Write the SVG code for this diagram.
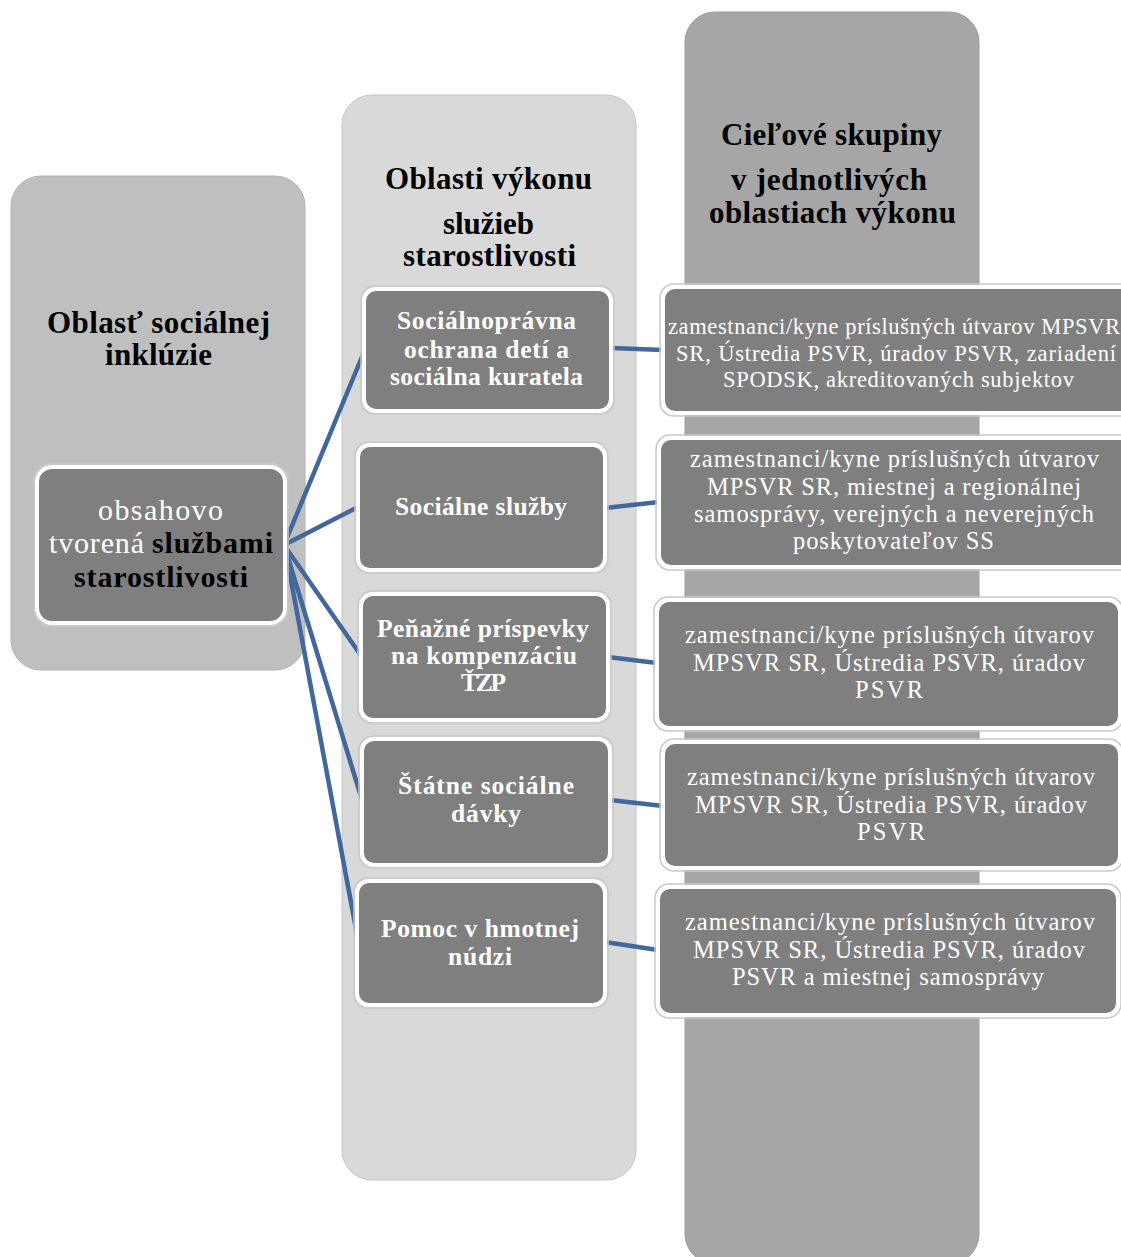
<svg xmlns="http://www.w3.org/2000/svg" width="1121" height="1257" viewBox="0 0 1121 1257">
<style>
.col1{fill:#bfbfbf;stroke:#b3b3b3;stroke-width:1}
.col2{fill:#d9d9d9;stroke:#c4c4c4;stroke-width:1}
.col3{fill:#a6a6a6;stroke:#9c9c9c;stroke-width:1}
.shadow{fill:none;stroke:#c9c9c9;stroke-width:1.5}
.node{fill:#7f7f7f;stroke:#ffffff;stroke-width:4}
.hdr{font-family:"Liberation Serif","Times New Roman",serif;font-weight:bold;font-size:31px;fill:#000}
.mid{font-family:"Liberation Serif","Times New Roman",serif;font-weight:bold;font-size:25.5px;fill:#fff}
.tgt{font-family:"Liberation Serif","Times New Roman",serif;font-size:24.5px;fill:#fff}
.lft{font-family:"Liberation Serif","Times New Roman",serif;font-size:30px}
.conn{stroke:#41679c;stroke-width:4.5;fill:none;stroke-linecap:butt}
</style>
<rect width="1121" height="1257" fill="#ffffff"/>

<g id="col-inkluzia">
<rect class="col1" x="11" y="176" width="294" height="494" rx="30"/>
<text class="hdr"><tspan x="47" y="333" textLength="223">Oblasť sociálnej</tspan><tspan x="105" y="365" textLength="107">inklúzie</tspan></text>
</g>
<g id="col-oblasti">
<rect class="col2" x="342" y="95" width="294" height="1085" rx="30"/>
<text class="hdr"><tspan x="385" y="189" textLength="207">Oblasti výkonu</tspan><tspan x="443" y="234" textLength="91">služieb</tspan><tspan x="403" y="266" textLength="173">starostlivosti</tspan></text>
</g>
<g id="col-ciel">
<rect class="col3" x="685" y="12" width="294" height="1252" rx="30"/>
<text class="hdr"><tspan x="721" y="145" textLength="221">Cieľové skupiny</tspan><tspan x="731" y="190" textLength="196">v jednotlivých</tspan><tspan x="709" y="223" textLength="247">oblastiach výkonu</tspan></text>
</g>

<g id="connectors">
<line class="conn" x1="284" y1="545" x2="364" y2="352"/>
<line class="conn" x1="284" y1="545" x2="358" y2="507"/>
<line class="conn" x1="284" y1="545" x2="362" y2="657"/>
<line class="conn" x1="285" y1="548" x2="362" y2="800"/>
<line class="conn" x1="285" y1="548" x2="358" y2="940"/>
<line class="conn" x1="611" y1="348" x2="663" y2="350"/>
<line class="conn" x1="605" y1="508" x2="659" y2="502"/>
<line class="conn" x1="608" y1="657" x2="657" y2="663"/>
<line class="conn" x1="610" y1="800" x2="663" y2="806"/>
<line class="conn" x1="605" y1="942" x2="658" y2="950"/>
</g>

<g id="node-obsahovo">
<rect class="shadow" x="34" y="464" width="254" height="162" rx="17"/>
<rect class="node" x="37" y="467" width="248" height="156" rx="15"/>
<text class="lft"><tspan x="98" y="520" textLength="125" fill="#fff">obsahovo</tspan><tspan x="49" y="553" textLength="95" fill="#fff">tvorená</tspan><tspan x="152" y="553" textLength="121" font-weight="bold" fill="#000">službami</tspan><tspan x="74" y="587" textLength="174" font-weight="bold" fill="#000">starostlivosti</tspan></text>
</g>

<g id="node-spodsk">
<rect class="shadow" x="361" y="286" width="253" height="128" rx="14"/>
<rect class="node" x="364" y="289" width="247" height="122" rx="12"/>
<text class="mid"><tspan x="397" y="329" textLength="179">Sociálnoprávna</tspan><tspan x="404" y="358" textLength="165">ochrana  detí a</tspan><tspan x="390" y="385" textLength="193">sociálna kuratela</tspan></text>
</g>
<g id="node-ss">
<rect class="shadow" x="355" y="442" width="253" height="131" rx="14"/>
<rect class="node" x="358" y="445" width="247" height="125" rx="12"/>
<text class="mid"><tspan x="395" y="515" textLength="172">Sociálne služby</tspan></text>
</g>
<g id="node-ppk">
<rect class="shadow" x="358" y="591" width="253" height="132" rx="14"/>
<rect class="node" x="361" y="594" width="247" height="126" rx="12"/>
<text class="mid"><tspan x="377" y="637" textLength="212">Peňažné príspevky</tspan><tspan x="391" y="664" textLength="186">na kompenzáciu</tspan><tspan x="461" y="691" textLength="45">ŤZP</tspan></text>
</g>
<g id="node-ssd">
<rect class="shadow" x="359" y="736" width="254" height="132" rx="14"/>
<rect class="node" x="362" y="739" width="248" height="126" rx="12"/>
<text class="mid"><tspan x="398" y="794" textLength="176">Štátne sociálne</tspan><tspan x="451" y="822" textLength="70">dávky</tspan></text>
</g>
<g id="node-phn">
<rect class="shadow" x="354" y="878" width="254" height="130" rx="14"/>
<rect class="node" x="357" y="881" width="248" height="124" rx="12"/>
<text class="mid"><tspan x="381" y="937" textLength="198">Pomoc v hmotnej</tspan><tspan x="448" y="965" textLength="64">núdzi</tspan></text>
</g>

<g id="target-1">
<rect class="shadow" x="660" y="284" width="480" height="132" rx="14"/>
<rect class="node" x="663" y="287" width="474" height="126" rx="12"/>
<text class="tgt"><tspan x="668" y="334" textLength="452" font-size="22.5">zamestnanci/kyne príslušných útvarov MPSVR</tspan><tspan x="676" y="361" textLength="440" font-size="22.5">SR,  Ústredia PSVR, úradov PSVR, zariadení</tspan><tspan x="723" y="387" textLength="351" font-size="22.5">SPODSK, akreditovaných subjektov</tspan></text>
</g>
<g id="target-2">
<rect class="shadow" x="656" y="435" width="484" height="135" rx="14"/>
<rect class="node" x="659" y="438" width="478" height="129" rx="12"/>
<text class="tgt"><tspan x="690" y="467" textLength="409">zamestnanci/kyne príslušných útvarov</tspan><tspan x="707" y="495" textLength="374">MPSVR SR, miestnej a regionálnej</tspan><tspan x="694" y="522" textLength="400">samosprávy, verejných a neverejných</tspan><tspan x="793" y="549" textLength="201">poskytovateľov SS</tspan></text>
</g>
<g id="target-3">
<rect class="shadow" x="654" y="597" width="469" height="134" rx="14"/>
<rect class="node" x="657" y="600" width="463" height="128" rx="12"/>
<text class="tgt"><tspan x="685" y="643" textLength="409">zamestnanci/kyne príslušných útvarov</tspan><tspan x="693" y="671" textLength="392">MPSVR SR, Ústredia PSVR, úradov</tspan><tspan x="855" y="698" textLength="68">PSVR</tspan></text>
</g>
<g id="target-4">
<rect class="shadow" x="660" y="739" width="463" height="132" rx="14"/>
<rect class="node" x="663" y="742" width="457" height="126" rx="12"/>
<text class="tgt"><tspan x="687" y="785" textLength="408">zamestnanci/kyne príslušných útvarov</tspan><tspan x="695" y="813" textLength="392">MPSVR SR, Ústredia PSVR, úradov</tspan><tspan x="857" y="840" textLength="68">PSVR</tspan></text>
</g>
<g id="target-5">
<rect class="shadow" x="655" y="884" width="466" height="134" rx="14"/>
<rect class="node" x="658" y="887" width="460" height="128" rx="12"/>
<text class="tgt"><tspan x="685" y="930" textLength="410">zamestnanci/kyne príslušných útvarov</tspan><tspan x="693" y="958" textLength="392">MPSVR SR, Ústredia PSVR, úradov</tspan><tspan x="732" y="985" textLength="312">PSVR a miestnej samosprávy</tspan></text>
</g>
</svg>
